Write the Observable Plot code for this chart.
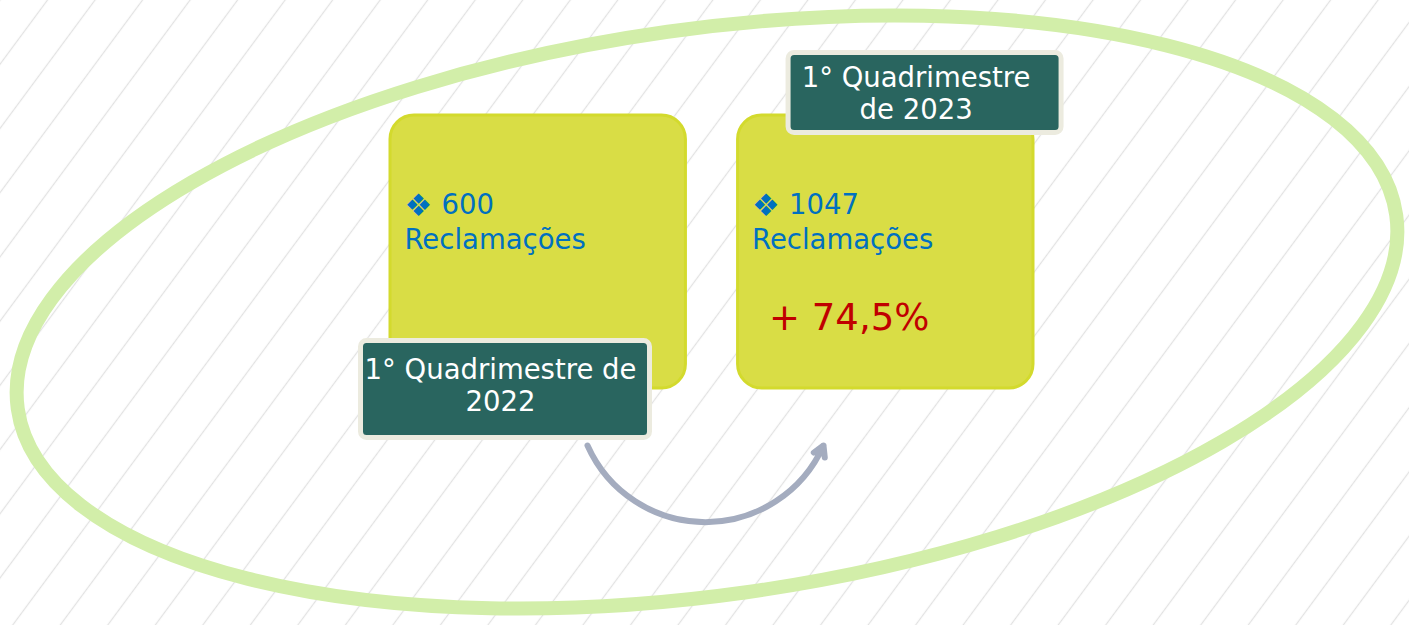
<!DOCTYPE html>
<html>
<head>
<meta charset="utf-8">
<script src="https://cdn.jsdelivr.net/npm/d3@7"></script>
<script src="https://cdn.jsdelivr.net/npm/@observablehq/plot@0.6"></script>
<style>
  html, body { margin: 0; padding: 0; background: #ffffff; }
  #chart svg { display: block; }
</style>
</head>
<body>
<div id="chart"></div>
<script>
// ---------- data ----------
const categories = ["1° Quadrimestre de 2022", "1° Quadrimestre de 2023"];
const labelText = ["1° Quadrimestre de\n2022", "1° Quadrimestre\nde 2023"];
const values = [600, 1047];
const unit = "Reclamações";

// ---------- layout (pixels) ----------
const W = 1409, H = 625;
const band = d3.scaleBand(categories, [390, 1033]).paddingInner(0.15);
const bw = band.bandwidth();
const boxTop = 115, boxBottom = 388;
const labelGeom = [
  {x1: -29.5, x2: 259.5, y1: 340.5, y2: 437.5, tx: 110, ty: 384},
  {x1: 50.5, x2: 323.5, y1: 52.5, y2: 132.5, tx: 178, ty: 92.5}
];
const lineY = [205, 240];

const pct = (values[1] - values[0]) / values[0] * 100;
const changeText = "+ " + pct.toFixed(1).replace(".", ",") + "%";

const table = categories.map((c, i) => ({
  category: c,
  label: labelText[i],
  value: values[i],
  left: band(c),
  right: band(c) + bw,
  lx1: band(c) + labelGeom[i].x1,
  lx2: band(c) + labelGeom[i].x2,
  ly1: labelGeom[i].y1,
  ly2: labelGeom[i].y2,
  tx: band(c) + labelGeom[i].tx,
  ty: labelGeom[i].ty
}));
const last = table[table.length - 1];
const arrowRow = [{x1: 587, y1: 445, x2: 823, y2: 445}];

// ---------- decorative background ----------
function hatch() {
  const ns = "http://www.w3.org/2000/svg";
  const g = document.createElementNS(ns, "g");
  g.innerHTML =
    `<defs><pattern id="hatch" patternUnits="userSpaceOnUse" width="38.2" height="38.2" patternTransform="rotate(36.5) translate(-19.1,0)">` +
    `<line x1="19.1" y1="-5" x2="19.1" y2="45" stroke="#e2e2e2" stroke-width="1.3"/></pattern></defs>` +
    `<rect x="0" y="0" width="${W}" height="${H}" fill="url(#hatch)"/>`;
  return g;
}
function ring() {
  const ns = "http://www.w3.org/2000/svg";
  const e = document.createElementNS(ns, "ellipse");
  e.setAttribute("cx", 707); e.setAttribute("cy", 312);
  e.setAttribute("rx", 696); e.setAttribute("ry", 283);
  e.setAttribute("transform", "rotate(-8 707 312)");
  e.setAttribute("fill", "none");
  e.setAttribute("stroke", "#d2eea9");
  e.setAttribute("stroke-width", 14);
  return e;
}

const chart = Plot.plot({
  width: W,
  height: H,
  margin: 0,
  x: {type: "identity", axis: null},
  y: {type: "identity", axis: null},
  style: {fontFamily: "DejaVu Sans", background: "#ffffff"},
  marks: [
    hatch,
    ring,
    Plot.rect(table, {
      x1: "left", x2: "right", y1: boxTop, y2: boxBottom,
      rx: 24, fill: "#d9dd45", stroke: "#d3da2d", strokeWidth: 3
    }),
    Plot.text(table, {
      x: d => d.left + 14, y: lineY[0] + 1, text: () => "❖",
      textAnchor: "start", fontSize: 31, fill: "#0070c0"
    }),
    Plot.text(table, {
      x: d => d.left + 51, y: lineY[0], text: d => String(d.value),
      textAnchor: "start", fontSize: 27.5, fill: "#0070c0"
    }),
    Plot.text(table, {
      x: d => d.left + 14, y: lineY[1], text: () => unit,
      textAnchor: "start", fontSize: 27.5, fill: "#0070c0"
    }),
    Plot.text([last], {
      x: d => d.left + 31, y: 318, text: () => changeText,
      textAnchor: "start", fontSize: 37, fill: "#c00000"
    }),
    Plot.rect(table, {
      x1: "lx1", x2: "lx2", y1: "ly1", y2: "ly2",
      rx: 6, fill: "#29655f", stroke: "#ecebdf", strokeWidth: 5
    }),
    Plot.text(table, {
      x: "tx", y: "ty", text: "label",
      fontSize: 27.5, lineHeight: 1.17, fill: "#ffffff"
    }),
    Plot.arrow(arrowRow, {
      x1: "x1", y1: "y1", x2: "x2", y2: "y2",
      bend: -66, stroke: "#a4acbf", strokeWidth: 6, headLength: 3
    })
  ]
});
document.getElementById("chart").append(chart);
</script>
</body>
</html>
